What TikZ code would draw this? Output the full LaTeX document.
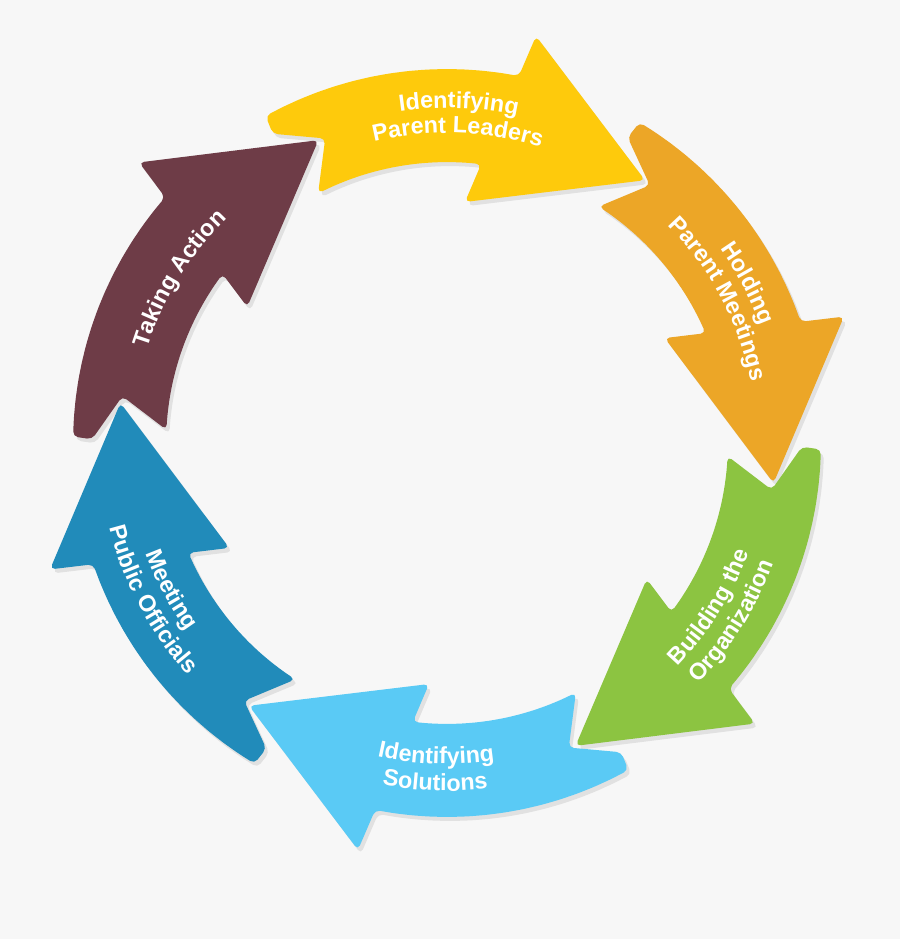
\documentclass[tikz,border=0pt]{standalone}
\usepackage{fontspec}
\setmainfont{Liberation Sans}
\usetikzlibrary{decorations.text}
\definecolor{bgc}{HTML}{F7F7F7}
\definecolor{shc}{HTML}{E1E1E1}
\definecolor{cyel}{HTML}{FECA0C}
\definecolor{cora}{HTML}{ECA627}
\definecolor{cgre}{HTML}{8CC441}
\definecolor{clbl}{HTML}{5ACAF5}
\definecolor{cblu}{HTML}{218BBA}
\definecolor{cmar}{HTML}{6E3C47}
\newcommand\lblfont{\fontsize{17.5}{17.5}\selectfont\bfseries}
\newcommand\arrowshape{plot[domain=119:78.92,samples=15] (\x:374) -- (77.66:416.6) -- (53:329) -- (85.73:241.7) -- plot[domain=83.01:117.3,samples=12] (\x:281) -- (111.8:328) -- (119.4:355) -- cycle}
\tikzset{
  arrowfill/.style={rounded corners=3.75pt},
  lbltext/.style={decorate,decoration={text along path,text align=center,text color=white,text={|\lblfont|#1}}}
}
\begin{document}
\begin{tikzpicture}[x=0.75pt,y=0.75pt]
\fill[bgc] (-447,-496) rectangle (453,443);
\useasboundingbox (-447,-496) rectangle (453,443);
% shadows
\foreach \k in {0,...,5}{
  \fill[shc,arrowfill,shift={(3,-4)},rotate=-60*\k] \arrowshape;
}
% arrows
\foreach \k/\c in {0/cyel,1/cora,2/cgre,3/clbl,4/cblu,5/cmar}{
  \fill[\c,arrowfill,rotate=-60*\k] \arrowshape;
}
% yellow
\path[lbltext={Identifying}] (128:335) arc[start angle=128,end angle=48,radius=335];
\path[lbltext={Parent Leaders}] (128:310) arc[start angle=128,end angle=48,radius=310];
% orange
\path[lbltext={Holding}] (68:335) arc[start angle=68,end angle=-12,radius=335];
\path[lbltext={Parent Meetings}] (68:310) arc[start angle=68,end angle=-12,radius=310];
% green
\path[lbltext={Building the}] (-72:321) arc[start angle=-72,end angle=8,radius=321];
\path[lbltext={Organization}] (-72:348) arc[start angle=-72,end angle=8,radius=348];
% light blue
\path[lbltext={Identifying}] (-132:321) arc[start angle=-132,end angle=-52,radius=321];
\path[lbltext={Solutions}] (-132:348) arc[start angle=-132,end angle=-52,radius=348];
% blue
\path[lbltext={Meeting}] (-192:321) arc[start angle=-192,end angle=-112,radius=321];
\path[lbltext={Public Officials}] (-192:348) arc[start angle=-192,end angle=-112,radius=348];
% maroon
\path[lbltext={Taking Action}] (188.5:314) arc[start angle=188.5,end angle=108.5,radius=314];
\end{tikzpicture}
\end{document}
